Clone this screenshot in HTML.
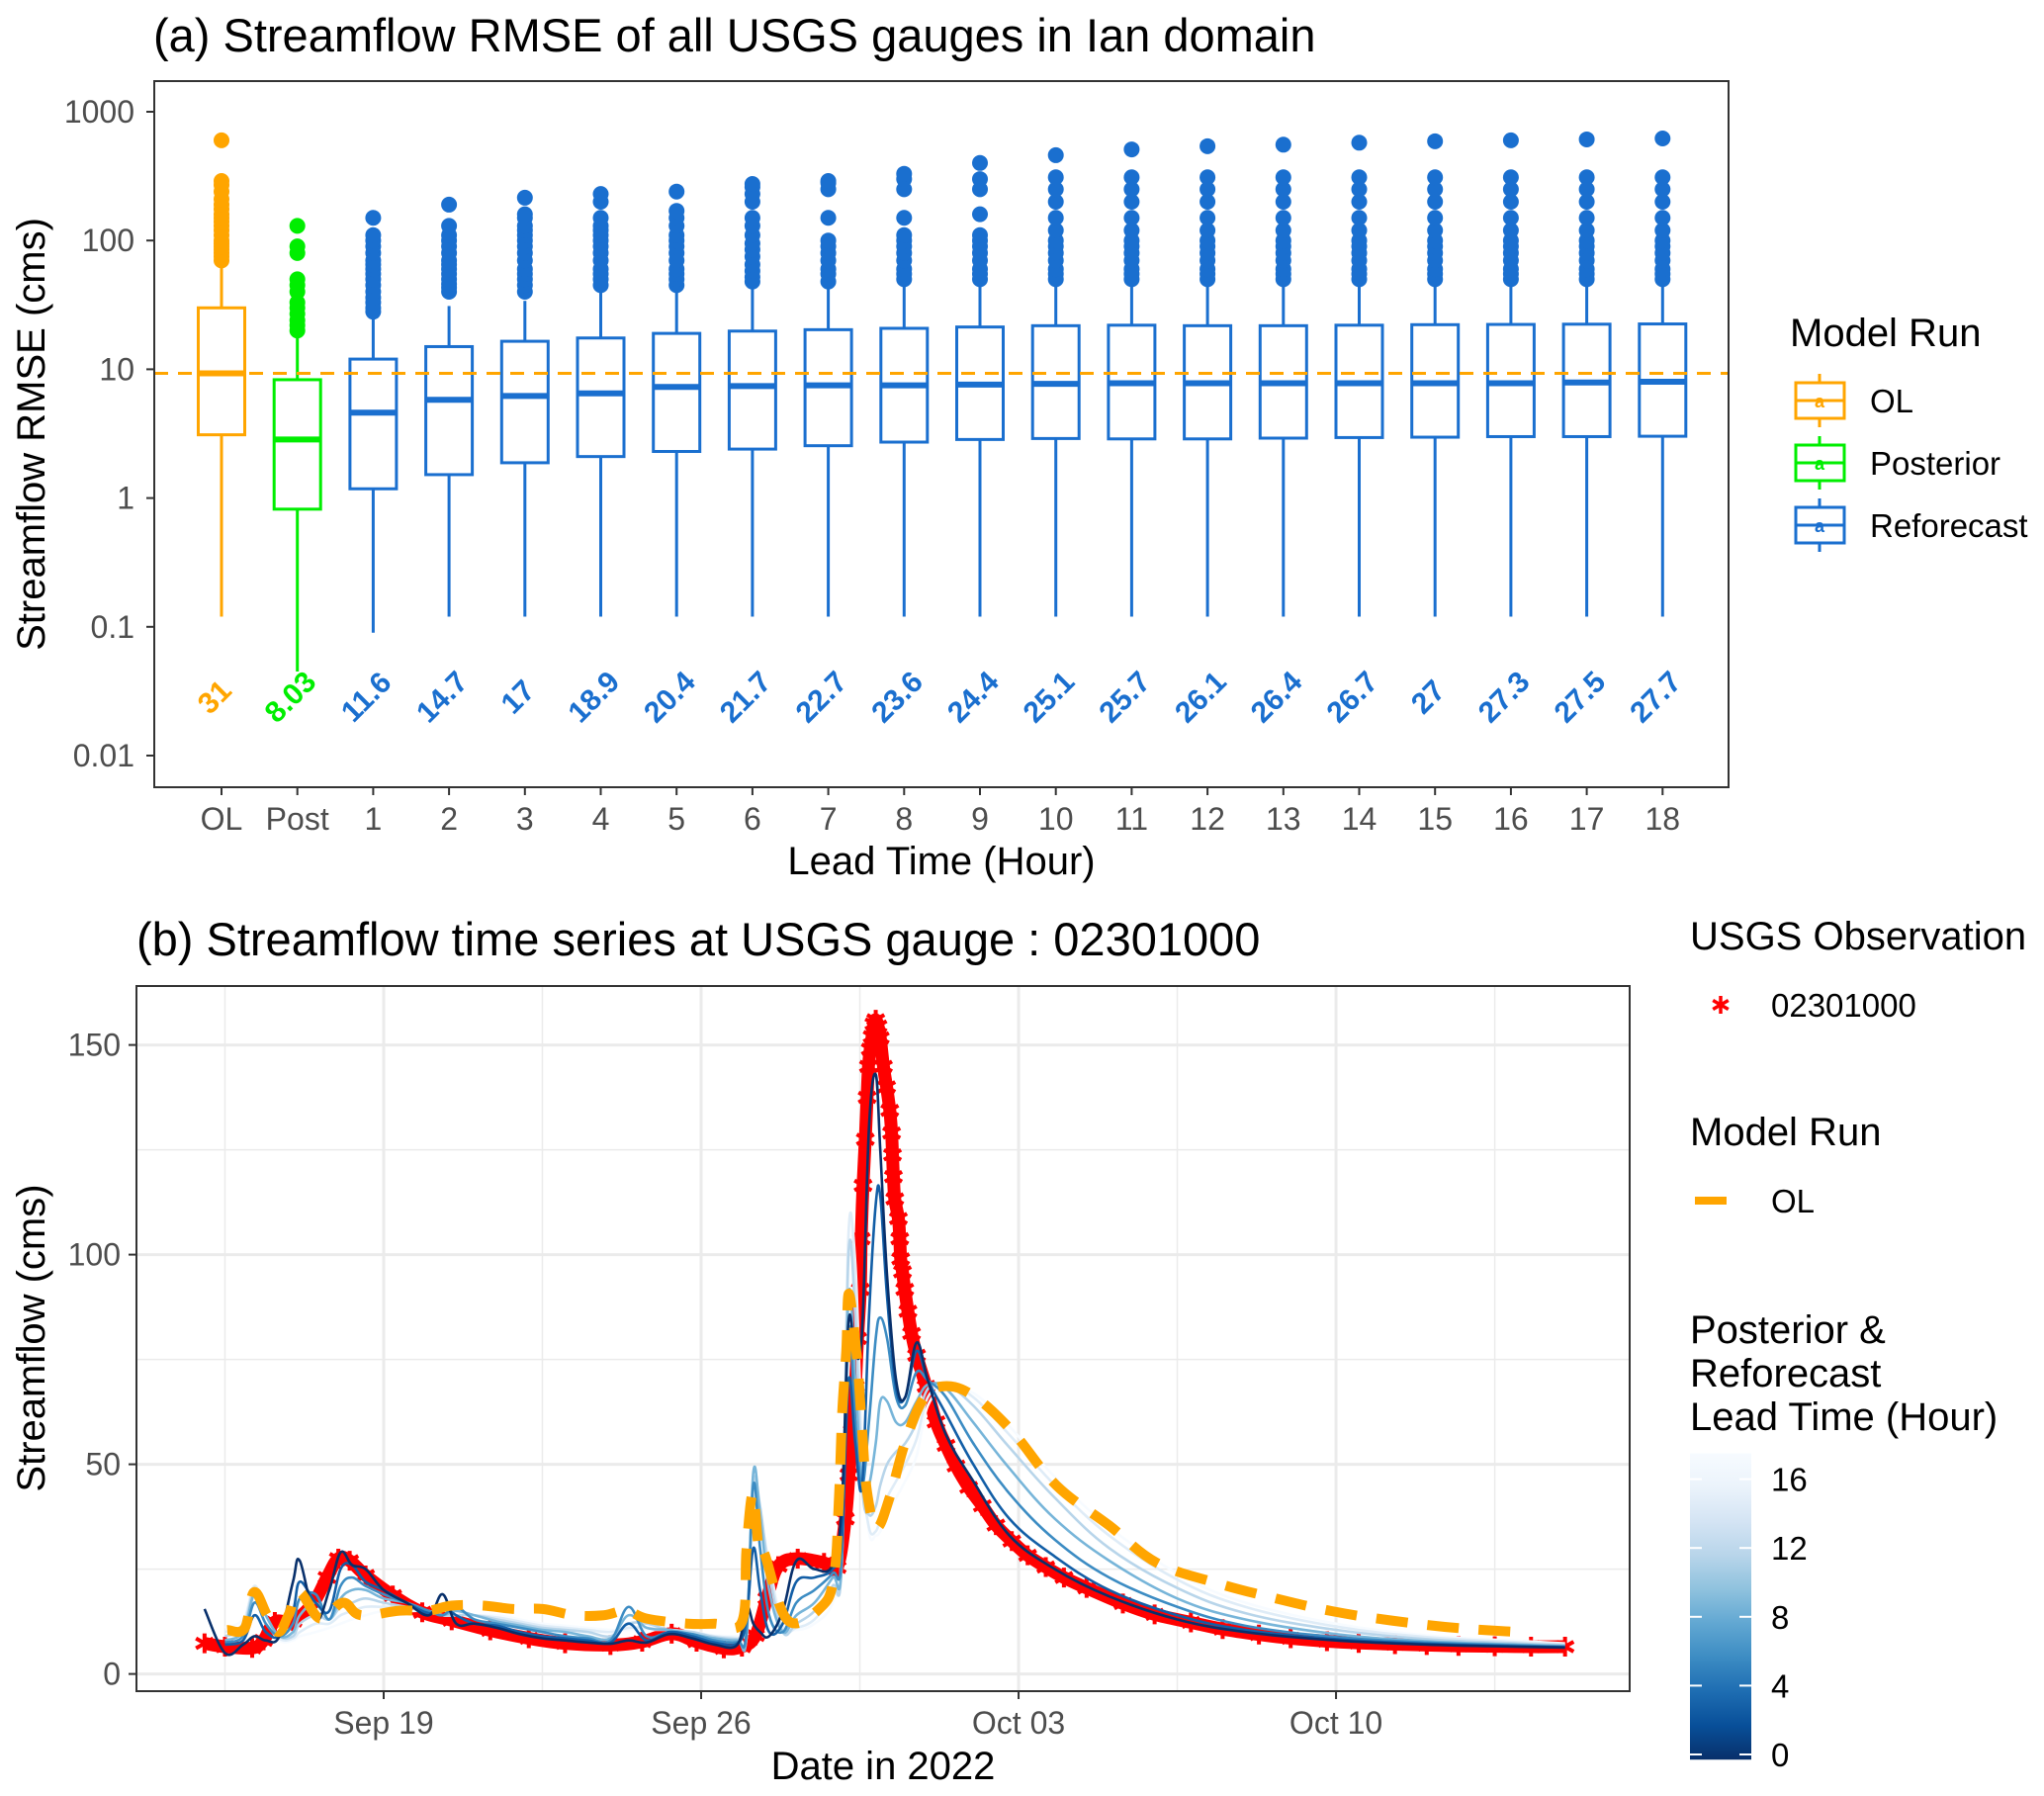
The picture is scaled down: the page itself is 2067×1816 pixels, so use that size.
<!DOCTYPE html>
<html><head><meta charset="utf-8"><style>
html,body{margin:0;padding:0;background:#fff;}
svg{display:block;font-family:"Liberation Sans",Arial,sans-serif;}
</style></head><body>
<svg id="chart" width="2067" height="1816" viewBox="0 0 2067 1816" xmlns="http://www.w3.org/2000/svg">
<rect x="0" y="0" width="2067" height="1816" fill="#fff"/>
<g id="pa"></g>
<g id="pb"></g>
</svg>
<script>
// ---------- Panel (a) data ----------
const catLabels = ["OL","Post","1","2","3","4","5","6","7","8","9","10","11","12","13","14","15","16","17","18"];
const catGroup = ["OL","Post","Re","Re","Re","Re","Re","Re","Re","Re","Re","Re","Re","Re","Re","Re","Re","Re","Re","Re"];
const lowWhisker = [0.12,0.045,0.09,0.12,0.12,0.12,0.12,0.12,0.12,0.12,0.12,0.12,0.12,0.12,0.12,0.12,0.12,0.12,0.12,0.12];
const q1Vals = [3.1,0.82,1.18,1.52,1.88,2.1,2.3,2.4,2.55,2.72,2.85,2.9,2.88,2.88,2.92,2.95,2.97,3.0,3.0,3.02];
const medVals = [9.3,2.85,4.6,5.8,6.2,6.5,7.3,7.4,7.5,7.5,7.6,7.7,7.8,7.8,7.8,7.8,7.8,7.8,7.9,8.0];
const q3Vals = [30,8.3,12,15,16.5,17.5,19,19.8,20.3,20.8,21.3,21.8,22,21.8,21.8,22,22.2,22.3,22.4,22.5];
const upWhisker = [65,19,26,31,34,40,42,45,45,48,50,50,50,50,50,50,50,50,50,50];
const meanVals = [31,8.03,11.6,14.7,17,18.9,20.4,21.7,22.7,23.6,24.4,25.1,25.7,26.1,26.4,26.7,27,27.3,27.5,27.7];
const outliers = [
 [70,75,80,85,90,95,100,110,120,130,140,150,160,175,190,210,240,270,290,600],
 [20,22,24,27,30,33,40,45,50,80,90,130],
 [28,30,33,36,40,45,50,55,60,65,70,80,90,100,110,150],
 [40,43,46,50,55,60,65,70,80,90,100,110,130,190],
 [40,45,50,55,60,70,80,90,100,110,120,130,150,160,215],
 [45,50,55,60,70,80,90,100,110,120,130,150,200,230],
 [45,50,55,60,70,80,90,100,110,130,150,170,240],
 [48,52,58,65,75,85,95,110,130,150,200,230,260,275],
 [48,55,60,70,80,90,100,150,250,280,290],
 [50,55,60,70,80,90,100,110,150,250,300,330],
 [50,55,60,70,80,90,100,110,160,250,300,400],
 [50,55,60,70,80,90,100,120,150,200,250,310,460],
 [50,55,60,70,80,90,100,120,150,200,250,310,510],
 [50,55,60,70,80,90,100,120,150,200,250,310,540],
 [50,55,60,70,80,90,100,120,150,200,250,310,555],
 [50,55,60,70,80,90,100,120,150,200,250,310,575],
 [50,55,60,70,80,90,100,120,150,200,250,310,590],
 [50,55,60,70,80,90,100,120,150,200,250,310,600],
 [50,55,60,70,80,90,100,120,150,200,250,310,610],
 [50,55,60,70,80,90,100,120,150,200,250,310,620]
];
const olRefLine = 9.3;
const yTicksA = [1000,100,10,1,0.1,0.01];
const yTickLabelsA = ["1000","100","10","1","0.1","0.01"];

// ---------- Panel (b) data ----------
const obsDays = [0.05,0.5,1.1,1.35,1.6,2.0,2.45,2.75,3.0,3.25,3.6,4.2,4.85,5.5,6.35,7.2,8.0,9.0,9.7,10.35,10.9,11.5,11.9,12.2,12.45,12.7,13.13,13.71,14.0,14.18,14.26,14.33,14.4,14.45,14.51,14.53,14.57,14.62,14.66,14.69,14.73,14.77,14.81,14.85,14.9,14.95,15.02,15.09,15.16,15.2,15.22,15.24,15.27,15.35,15.38,15.4,15.44,15.49,15.56,15.64,15.75,15.96,16.18,16.4,16.62,16.9,17.2,17.5,17.85,18.2,18.6,19.0,19.5,20.3,21.0,21.8,22.5,23.3,24.0,24.8,25.5,26.3,27.0,27.7,28.5,29.3,30.05];
const obsVals = [7.3,6.5,6.2,8,12.4,12.6,17,23,27.5,27,23.5,18.7,14.7,12.8,10.4,8.5,7.3,6.9,7.7,9.6,7.7,6.1,6.5,9.2,18,25.7,27.5,26.5,25.4,37,47.5,58,68.6,80,91.7,103.8,116.5,127.5,137.5,144.9,149,152,155,156,154.5,151.7,144.9,140,134.4,129,123.8,118.6,113.3,108.6,103.8,99,95.9,91.7,86.5,81.2,76,68.6,60.1,54.5,49.6,44.5,40.1,35.5,31.7,28.3,25.5,23,20.5,16.8,14.2,12.3,10.7,9.4,8.5,7.8,7.4,7.1,6.9,6.7,6.6,6.5,6.5];
const olDays = [0.55,0.93,1.14,1.43,1.68,1.9,2.14,2.6,3.1,3.5,4.35,5.0,5.5,6.2,6.85,7.5,8.2,8.85,9.35,9.8,10.7,11.3,11.9,12.0,12.14,12.27,12.4,12.91,13.64,13.93,14.04,14.11,14.2,14.26,14.44,14.55,14.66,14.87,15.16,15.49,15.89,16.33,16.98,17.85,18.83,20.0,21.05,22.4,23.6,24.9,26.25,27.73,29.2];
const olVals = [10.5,10.8,19.5,14,10,14,19.5,13.2,17,14,15.1,15.1,16.3,16.3,15.5,15.5,14,14,15.1,13.2,12,12,12.4,29.7,43,30,28.6,12.8,15.9,23.3,42.2,62.2,77,90.7,74.9,58,43.3,34.9,42.2,54.9,65.4,68.6,66.5,58,45,35.4,26.5,21.6,18.2,15,12.7,10.9,9.9];
const fcDays = [0.05,0.5,0.9,1.15,1.4,1.7,2.0,2.15,2.5,2.8,3.05,3.3,3.6,4.0,4.5,5.0,5.3,5.6,6.0,6.5,7.0,7.5,8.0,8.5,9.0,9.4,9.8,10.3,10.8,11.3,11.8,12.0,12.15,12.3,12.5,12.8,13.1,13.5,13.9,14.1,14.25,14.4,14.55,14.7,14.85,14.95,15.1,15.3,15.5,15.75,16.0,16.4,17.0,17.8,18.8,20.0,21.5,23.0,25.0,27.0,29.0,30.05];
const leadHours = [18,15,12,9,6,3,0];
const lead0 = [15.5,5,7,9,8,9,22,27,13,20,29,26,25,20,17,14,19,12,12,11,9.5,8.5,8,7.5,7.2,8,7.5,9.5,8.5,7,7,16,12,10,9,15,27,25,26,40,84,76,82,130,143,125,95,70,66,79,70,57,46,33,25,18.5,13,10,8,7,6.5,6.3];
const lead3 = [null,7,8,14,10,9,15,22,17,15,25,26,22,20,17,14.5,16,14,12,11.5,10,9,8.5,8,7.5,12,8,10,9,7.5,7.3,13,30,20,10,12,22,23,25,32,70,55,45,85,112,114,90,68,66,77,70,62,50,37,28,20,14,10.5,8.3,7.2,6.6,6.4];
const lead6 = [null,7.5,9,17,12,9,12,18,19,13,21,23,21,19,17,15,14,16,13,12,11,10,9,8.5,8,16,9,10,9.5,8,7.6,10,45,30,14,10,17,20,24,28,82,60,45,60,80,85,80,66,64,72,70,66,55,43,32,23,16,11.5,8.8,7.5,6.8,6.5];
const lead9 = [null,8,10,19,14,9,10,14,17,13,18,20,20,18,17,15,14,15,14,12.5,11.5,10.5,10,9,8.5,14,11,10.5,9.5,8.5,8,9,48,38,20,10,14,17,23,26,90,70,45,45,55,65,65,60,60,65,69,68,60,49,37,27,18,13,9.5,7.8,7,6.7];
const lead12 = [null,9,11,20,14,9,9,12,14,13,16,17,18,17,16,15,14,14,14,13,12,11,10.5,10,9,12,12,10.5,10,8.8,8.3,8.5,45,40,24,10,12,15,21,26,100,85,45,38,40,45,50,53,55,60,68,69,64,54,42,30,20.5,14.5,10.5,8.3,7.3,6.9];
const lead15 = [null,10,12,21,14,8.5,8.5,10,12,12,14,15,16,16,16,15,14,14,14,13.5,12.5,11.5,11,10.5,10,11,11,10.5,10,9,8.6,8.5,40,38,26,11,11,13,19,28,105,95,50,35,34,37,42,46,50,56,66,69,66,57,45,33,22.5,16,11.3,8.8,7.6,7.1];
const lead18 = [null,11,13,20,13,8,8,9,10,11,12,13,14,15,15,15,14,14,14,14,13,12,11.5,11,10.5,10.5,10.5,10.5,10,9.2,9,9,35,35,26,12,10.5,12,17,30,103,98,55,34,33,34,38,42,46,52,64,68,67,59,47,35,24,17,12,9.2,7.9,7.3];
const xTickDays = [4,11,18,25];
const xTickLabels = ["Sep 19","Sep 26","Oct 03","Oct 10"];
const xMinorDays = [0.5,7.5,14.5,21.5,28.5];
const yTicksB = [0,50,100,150];
const yMinorB = [25,75,125];
const cbTicks = [0,4,8,12,16];

const NS = "http://www.w3.org/2000/svg";
function mk(parent, tag, attrs, text){
  const e = document.createElementNS(NS, tag);
  for (const k in attrs) e.setAttribute(k, attrs[k]);
  if (text !== undefined) e.textContent = text;
  parent.appendChild(e);
  return e;
}
const colorOf = {OL:"#FFA500", Post:"#00EE00", Re:"#1A6FCF"};
const TICK = 32, AXT = 40, TIT = 47, LEG = 33, LEGT = 40;

// ---------- Panel (a) ----------
const pa = document.getElementById('pa');
const A = {l:156, r:1748, t:82, b:796};
const yA = v => 764 - (Math.log10(v) + 2) * 130.2;
const xA = i => 224 + i * 76.7;
let el;
el = mk(pa,'text',{x:155,y:52,'font-size':TIT,fill:'#000'},"(a) Streamflow RMSE of all USGS gauges in Ian domain");


el = mk(pa,'rect',{x:A.l,y:A.t,width:A.r-A.l,height:A.b-A.t,fill:'#fff'});


yTicksA.forEach((v,i)=>{
  const y = yA(v);
  const t = mk(pa,'line',{x1:A.l-8,x2:A.l,y1:y,y2:y,stroke:'#333','stroke-width':2});
  
  
  const lb = mk(pa,'text',{x:A.l-20,y:y+11,'font-size':TICK,fill:'#4d4d4d','text-anchor':'end'},yTickLabelsA[i]);
  
  
});
catLabels.forEach((c,i)=>{
  const x = xA(i), col = colorOf[catGroup[i]];
  const g = mk(pa,'g',{});
  
  
  mk(g,'line',{x1:x,x2:x,y1:yA(lowWhisker[i]),y2:yA(q1Vals[i]),stroke:col,'stroke-width':3});
  mk(g,'line',{x1:x,x2:x,y1:yA(q3Vals[i]),y2:yA(upWhisker[i]),stroke:col,'stroke-width':3});
  mk(g,'rect',{x:x-23.5,y:yA(q3Vals[i]),width:47,height:yA(q1Vals[i])-yA(q3Vals[i]),fill:'#fff',stroke:col,'stroke-width':3});
  mk(g,'line',{x1:x-23.5,x2:x+23.5,y1:yA(medVals[i]),y2:yA(medVals[i]),stroke:col,'stroke-width':6});
  outliers[i].forEach(o=>{
    const d = mk(g,'circle',{cx:x,cy:yA(o),r:8,fill:col});
    
    
  });
  const m = mk(pa,'text',{x:0,y:0,'font-size':30,'font-weight':'bold',fill:col,'text-anchor':'middle',transform:`translate(${x},${yA(0.03)+10}) rotate(-45)`},String(meanVals[i]));
  
  
  const tk = mk(pa,'line',{x1:x,x2:x,y1:A.b,y2:A.b+8,stroke:'#333','stroke-width':2});
  
  
  const tl = mk(pa,'text',{x:x,y:839,'font-size':TICK,fill:'#4d4d4d','text-anchor':'middle'},c);
  
  
});
el = mk(pa,'line',{x1:A.l,x2:A.r,y1:yA(olRefLine),y2:yA(olRefLine),stroke:'#FFA500','stroke-width':3,'stroke-dasharray':'14 10'});


el = mk(pa,'rect',{x:A.l,y:A.t,width:A.r-A.l,height:A.b-A.t,fill:'none',stroke:'#333','stroke-width':2});


el = mk(pa,'text',{x:952,y:884,'font-size':AXT,fill:'#000','text-anchor':'middle'},"Lead Time (Hour)");


el = mk(pa,'text',{x:0,y:0,'font-size':AXT,fill:'#000','text-anchor':'middle',transform:'translate(45,439) rotate(-90)'},"Streamflow RMSE (cms)");


// legend a
el = mk(pa,'text',{x:1810,y:350,'font-size':LEGT,fill:'#000'},"Model Run");


[["OL","#FFA500",405],["Posterior","#00EE00",468],["Reforecast","#1A6FCF",531]].forEach(([n,c,y])=>{
  const g = mk(pa,'g',{});
  
  
  mk(g,'line',{x1:1840,x2:1840,y1:y-27,y2:y+27,stroke:c,'stroke-width':3});
  mk(g,'rect',{x:1816,y:y-18,width:49,height:36,fill:'#fff',stroke:c,'stroke-width':3});
  mk(g,'line',{x1:1816,x2:1865,y1:y,y2:y,stroke:c,'stroke-width':3});
  mk(g,'text',{x:1840,y:y+7,'font-size':18,'font-weight':'bold',fill:c,'text-anchor':'middle'},"a");
  mk(g,'text',{x:1891,y:y+12,'font-size':LEG,fill:'#000'},n);
});

// ---------- Panel (b) ----------
const pb = document.getElementById('pb');
const B = {l:138, r:1648, t:997, b:1710};
const xB = d => 388 + (d - 4) * 45.86;
const yB = v => 1692.6 - v * 4.24;
el = mk(pb,'text',{x:138,y:966,'font-size':TIT,fill:'#000'},"(b) Streamflow time series at USGS gauge : 02301000");


el = mk(pb,'rect',{x:B.l,y:B.t,width:B.r-B.l,height:B.b-B.t,fill:'#fff'});


yMinorB.forEach(v=>{ const l=mk(pb,'line',{x1:B.l,x2:B.r,y1:yB(v),y2:yB(v),stroke:'#ebebeb','stroke-width':1.5});
    });
xMinorDays.forEach(d=>{ const l=mk(pb,'line',{x1:xB(d),x2:xB(d),y1:B.t,y2:B.b,stroke:'#ebebeb','stroke-width':1.5});
    });
yTicksB.forEach(v=>{
  const y=yB(v);
  const l=mk(pb,'line',{x1:B.l,x2:B.r,y1:y,y2:y,stroke:'#ebebeb','stroke-width':3});
   
  const t=mk(pb,'line',{x1:B.l-8,x2:B.l,y1:y,y2:y,stroke:'#333','stroke-width':2});
   
  const lb=mk(pb,'text',{x:B.l-16,y:y+11,'font-size':TICK,fill:'#4d4d4d','text-anchor':'end'},String(v));
   
});
xTickDays.forEach((d,i)=>{
  const x=xB(d);
  const l=mk(pb,'line',{x1:x,x2:x,y1:B.t,y2:B.b,stroke:'#ebebeb','stroke-width':3});
   
  const t=mk(pb,'line',{x1:x,x2:x,y1:B.b,y2:B.b+8,stroke:'#333','stroke-width':2});
   
  const lb=mk(pb,'text',{x:x,y:1753,'font-size':TICK,fill:'#4d4d4d','text-anchor':'middle'},xTickLabels[i]);
   
});
function smoothPath(xs, ys){
  const P=[]; for(let i=0;i<xs.length;i++){ if(ys[i]!==null) P.push([xB(xs[i]),yB(ys[i])]); }
  let d=`M${P[0][0]},${P[0][1]}`;
  for(let i=0;i<P.length-1;i++){
    const p0=P[Math.max(0,i-1)],p1=P[i],p2=P[i+1],p3=P[Math.min(P.length-1,i+2)];
    const t=0.18;
    const c1=[p1[0]+(p2[0]-p0[0])*t,p1[1]+(p2[1]-p0[1])*t];
    const c2=[p2[0]-(p3[0]-p1[0])*t,p2[1]-(p3[1]-p1[1])*t];
    d+=` C${c1[0]},${c1[1]} ${c2[0]},${c2[1]} ${p2[0]},${p2[1]}`;
  }
  return d;
}
function starPath(cx, cy, r){
  let d='';
  for(let k=0;k<3;k++){
    const a=Math.PI/2 + k*Math.PI/3;
    d+=`M${cx-r*Math.cos(a)},${cy-r*Math.sin(a)} L${cx+r*Math.cos(a)},${cy+r*Math.sin(a)} `;
  }
  return d;
}
// observation band (continuous hourly stars blend into a band)
el = mk(pb,'path',{d:smoothPath(obsDays,obsVals),fill:'none',stroke:'#FF0000','stroke-width':13,'stroke-linejoin':'round'});


obsDays.forEach((d,i)=>{
  const s=mk(pb,'path',{d:starPath(xB(d),yB(obsVals[i]),10),stroke:'#FF0000','stroke-width':4,fill:'none'});
  
  
});
// forecast lines
const leadSeries = [lead18,lead15,lead12,lead9,lead6,lead3,lead0];
const blues = ["#F7FBFF","#DEEBF7","#C6DBEF","#9ECAE1","#6BAED6","#4292C6","#2171B5","#08519C","#08306B"];
function blueFor(h){ const t=Math.min(1,h/17); const idx=(1-t)*8; const a=Math.floor(idx), b=Math.min(8,a+1), f=idx-a;
  const c1=blues[a], c2=blues[b];
  const mix=(k)=>Math.round(parseInt(c1.substr(k,2),16)*(1-f)+parseInt(c2.substr(k,2),16)*f);
  return `rgb(${mix(1)},${mix(3)},${mix(5)})`; }
leadSeries.forEach((s,i)=>{
  const p=mk(pb,'path',{d:smoothPath(fcDays,s),fill:'none',stroke:blueFor(leadHours[i]),'stroke-width':2.6});
  
  
});
el = mk(pb,'path',{d:smoothPath(olDays,olVals),fill:'none',stroke:'#FFA500','stroke-width':10,'stroke-dasharray':'32 20'});


el = mk(pb,'rect',{x:B.l,y:B.t,width:B.r-B.l,height:B.b-B.t,fill:'none',stroke:'#333','stroke-width':2});


el = mk(pb,'text',{x:893,y:1799,'font-size':AXT,fill:'#000','text-anchor':'middle'},"Date in 2022");


el = mk(pb,'text',{x:0,y:0,'font-size':AXT,fill:'#000','text-anchor':'middle',transform:'translate(45,1353) rotate(-90)'},"Streamflow (cms)");


// legends b
el = mk(pb,'text',{x:1709,y:960,'font-size':LEGT,fill:'#000'},"USGS Observation");
 
el = mk(pb,'path',{d:starPath(1740,1016,9),stroke:'#FF0000','stroke-width':3.5,fill:'none'});
 
el = mk(pb,'text',{x:1791,y:1028,'font-size':LEG,fill:'#000'},"02301000");
 
el = mk(pb,'text',{x:1709,y:1158,'font-size':LEGT,fill:'#000'},"Model Run");
 
el = mk(pb,'line',{x1:1714,x2:1746,y1:1214,y2:1214,stroke:'#FFA500','stroke-width':8});
 
el = mk(pb,'text',{x:1791,y:1226,'font-size':LEG,fill:'#000'},"OL");
 
[["Posterior &",1358],["Reforecast",1402],["Lead Time (Hour)",1446]].forEach(([t,y])=>{
  const e=mk(pb,'text',{x:1709,y:y,'font-size':LEGT,fill:'#000'},t);
   
});
const defs=mk(document.getElementById('chart'),'defs',{});
const lg=mk(defs,'linearGradient',{id:'cbg',x1:0,y1:1,x2:0,y2:0});
for(let h=0;h<=18;h+=2){ mk(lg,'stop',{offset:(h/18).toFixed(3),'stop-color':blueFor(h)}); }
const cbY = h => 1774 - h * 17.4;
el = mk(pb,'rect',{x:1709,y:cbY(17.5),width:62,height:cbY(-0.3)-cbY(17.5),fill:'url(#cbg)'});
 
cbTicks.forEach(h=>{
  const y=cbY(h);
  mk(pb,'line',{x1:1709,x2:1721,y1:y,y2:y,stroke:'#fff','stroke-width':2});
  mk(pb,'line',{x1:1759,x2:1771,y1:y,y2:y,stroke:'#fff','stroke-width':2});
  const t=mk(pb,'text',{x:1791,y:y+12,'font-size':LEG,fill:'#000'},String(h));
   
});
</script>
</body></html>
